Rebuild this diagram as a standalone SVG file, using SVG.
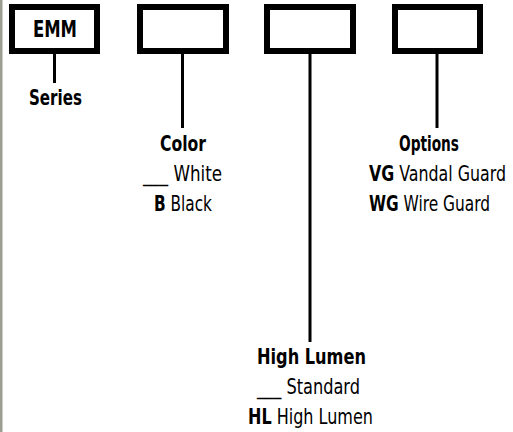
<svg xmlns="http://www.w3.org/2000/svg" width="513" height="432" viewBox="0 0 513 432">
<style>
.box{fill:#fff;stroke:#000;stroke-width:6}
.stem{stroke:#000;stroke-width:3;fill:none}
text{font-family:"DejaVu Sans Condensed","DejaVu Sans","Liberation Sans",sans-serif;font-stretch:condensed;font-size:21px;fill:#000}
.b{font-weight:bold}
.big{font-size:23px}
</style>
<rect x="0" y="0" width="513" height="432" fill="#fff"/>
<rect x="0" y="0" width="2.5" height="432" fill="#9d9d93"/>
<g id="connectors">
<line class="stem" x1="54.5" y1="54" x2="54.5" y2="83"/>
<line class="stem" x1="182.5" y1="54" x2="182.5" y2="128"/>
<line class="stem" x1="310" y1="54" x2="310" y2="342"/>
<line class="stem" x1="437" y1="54" x2="437" y2="128"/>
</g>
<g id="box-series">
<rect class="box" x="12" y="7" width="85" height="44"/>
<text class="b big" transform="scale(0.85,1)" x="38.82" y="37" textLength="51.76" lengthAdjust="spacingAndGlyphs">EMM</text>
</g>
<g id="box-color"><rect class="box" x="140" y="7" width="86" height="44"/></g>
<g id="box-highlumen"><rect class="box" x="267" y="7" width="86" height="44"/></g>
<g id="box-options"><rect class="box" x="395" y="7" width="85" height="44"/></g>
<g id="label-series" transform="scale(0.85,1)">
<text class="b" x="34.12" y="105" textLength="62.35" lengthAdjust="spacingAndGlyphs">Series</text>
</g>
<g id="label-color" transform="scale(0.85,1)">
<text class="b" x="188.24" y="151" textLength="54.12" lengthAdjust="spacingAndGlyphs">Color</text>
<text x="168.24" y="181" textLength="92.94" lengthAdjust="spacingAndGlyphs">___ White</text>
<text x="181.18" y="211" textLength="68.24" lengthAdjust="spacingAndGlyphs"><tspan class="b">B</tspan> Black</text>
</g>
<g id="label-options" transform="scale(0.85,1)">
<text class="b" x="469.41" y="151" textLength="70.59" lengthAdjust="spacingAndGlyphs">Options</text>
<text x="434.12" y="181" textLength="161.18" lengthAdjust="spacingAndGlyphs"><tspan class="b">VG</tspan> Vandal Guard</text>
<text x="434.12" y="211" textLength="142.35" lengthAdjust="spacingAndGlyphs"><tspan class="b">WG</tspan> Wire Guard</text>
</g>
<g id="label-highlumen" transform="scale(0.85,1)">
<text class="b" x="302.35" y="364" textLength="128.24" lengthAdjust="spacingAndGlyphs">High Lumen</text>
<text x="302.35" y="394" textLength="121.18" lengthAdjust="spacingAndGlyphs">___ Standard</text>
<text x="291.76" y="424" textLength="147.06" lengthAdjust="spacingAndGlyphs"><tspan class="b">HL</tspan> High Lumen</text>
</g>
</svg>
